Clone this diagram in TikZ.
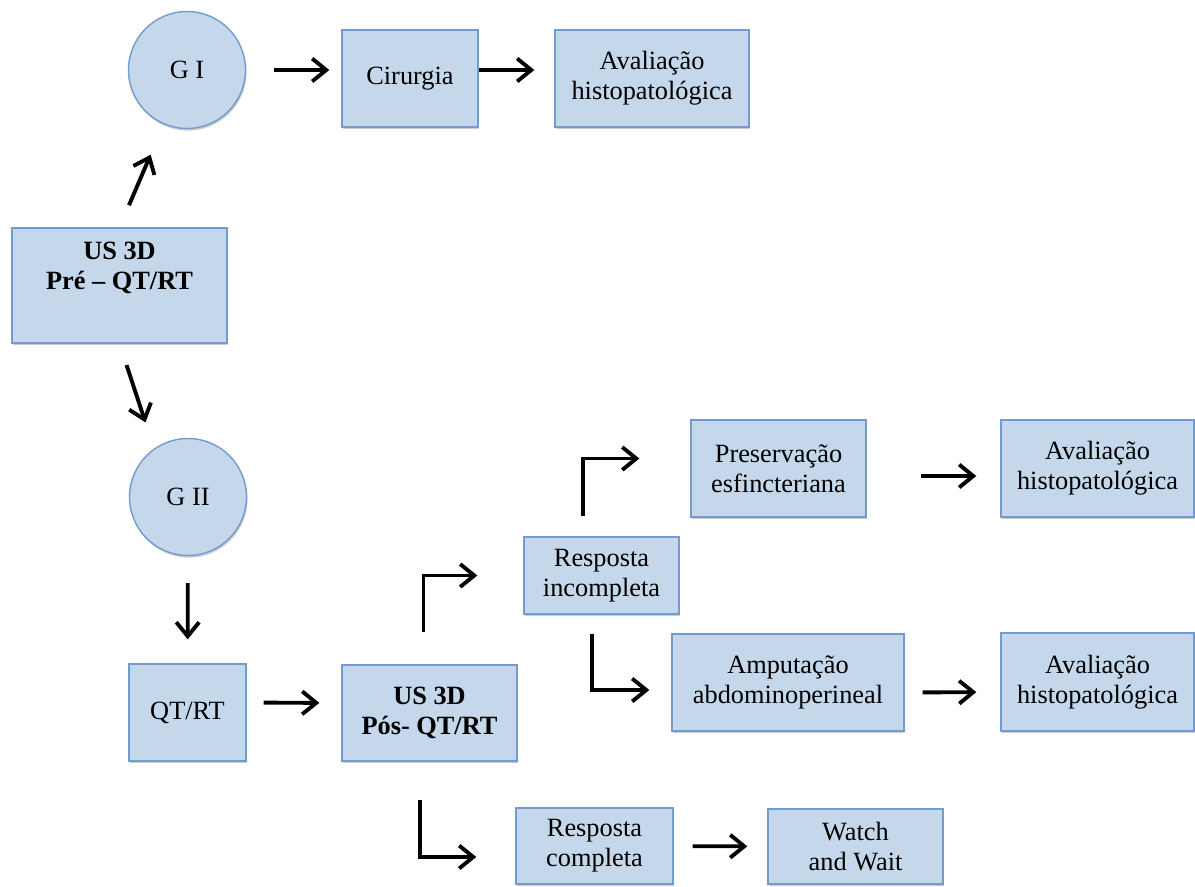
\documentclass[tikz,border=0pt]{standalone}
\usepackage{fontspec}
\setmainfont{Liberation Serif}
\usepackage{tikz}
\usetikzlibrary{arrows.meta, positioning, shadows}
\definecolor{boxFill}{RGB}{197, 215, 235}
\definecolor{boxBorder}{RGB}{115, 155, 205}

\begin{document}
\begin{tikzpicture}[
    x=0.02cm, y=-0.02cm,
    flowbox/.style={
        rectangle,
        draw=boxBorder,
        line width=0.8pt,
        fill=boxFill,
        align=center,
        inner sep=0pt,
        font=\fontsize{15}{17}\selectfont,
        drop shadow={shadow xshift=0.6pt, shadow yshift=-1.2pt, fill=black, opacity=0.2}
    },
    groupcircle/.style={
        flowbox,
        circle,
        minimum size=2.34cm
    },
    flowarrow/.style={
        -{Straight Barb[length=8pt, width=13pt]},
        line width=2.2pt,
        black
    }
]
\useasboundingbox (0,0) rectangle (1195,886);

% Top row - Grupo I
\node[groupcircle] (gi) at (187,70) {G I};
\node[flowbox, minimum width=2.72cm, minimum height=1.94cm] (cir) at (410,78.5) {Cirurgia};
\node[flowbox, minimum width=3.88cm, minimum height=1.94cm] (aval1) at (652,78.5) {Avaliação\\histopatológica};

% Left column - start and Grupo II
\node[flowbox, font=\fontsize{15}{17}\selectfont\bfseries, minimum width=4.3cm, minimum height=2.3cm] (pre) at (119.5,285.5) {US 3D\\Pré – QT/RT\\\strut};
\node[groupcircle] (gii) at (188,497) {G II};
\node[flowbox, minimum width=2.34cm, minimum height=1.94cm] (qtrt) at (187.5,712.5) {QT/RT};
\node[flowbox, font=\fontsize{15}{17}\selectfont\bfseries, minimum width=3.5cm, minimum height=1.92cm] (pos) at (429.5,713) {US 3D\\Pós- QT/RT};

% Right part - responses
\node[flowbox, minimum width=3.1cm, minimum height=1.54cm] (inc) at (601.5,575.5) {Resposta\\incompleta};
\node[flowbox, minimum width=3.5cm, minimum height=1.94cm] (pres) at (778.5,468.5) {Preservação\\esfincteriana};
\node[flowbox, minimum width=3.86cm, minimum height=1.94cm] (aval2) at (1097.5,468.5) {Avaliação\\histopatológica};
\node[flowbox, minimum width=4.64cm, minimum height=1.94cm] (amp) at (788,682.5) {Amputação\\abdominoperineal};
\node[flowbox, minimum width=3.86cm, minimum height=1.96cm] (aval3) at (1097.5,682) {Avaliação\\histopatológica};
\node[flowbox, minimum width=3.14cm, minimum height=1.52cm] (comp) at (594.5,846) {Resposta\\completa};
\node[flowbox, minimum width=3.5cm, minimum height=1.5cm] (watch) at (855.5,846.5) {Watch\\and Wait};

% Connecting arrows
\draw[flowarrow, shorten <=0.48cm, shorten >=0.66cm] (pre.north) -- (gi);
\draw[flowarrow, shorten <=0.45cm, shorten >=0.55cm] (pre.south) -- (gii.125);
\draw[flowarrow, shorten <=0.56cm, shorten >=0.24cm] (gi) -- (gi -| cir.west);
\draw[flowarrow, shorten >=0.4cm] (cir.east |- gi) -- (aval1.west |- gi);
\draw[flowarrow, shorten <=0.54cm, shorten >=0.48cm] (gii) -- (qtrt);
\draw[flowarrow, shorten <=0.34cm, shorten >=0.44cm] ([yshift=0.2cm]qtrt.east) -- ([yshift=0.2cm]pos.west);
\draw[flowarrow, shorten <=0.64cm, shorten >=0.92cm] ([xshift=-0.12cm]pos.north) |- (inc.west);
\draw[flowarrow, shorten <=0.76cm, shorten >=0.78cm] ([xshift=-0.19cm]pos.south) |- ([yshift=-0.22cm]comp.west);
\draw[flowarrow, shorten <=0.4cm, shorten >=1.02cm] ([xshift=-0.37cm]inc.north) |- ([yshift=0.2cm]pres.west);
\draw[flowarrow, shorten <=0.38cm, shorten >=0.44cm] ([xshift=-0.19cm]inc.south) |- ([yshift=-0.15cm]amp.west);
\draw[flowarrow, shorten <=1.08cm, shorten >=0.48cm] ([yshift=-0.15cm]pres.east) -- ([yshift=-0.15cm]aval2.west);
\draw[flowarrow, shorten <=0.36cm, shorten >=0.48cm] ([yshift=-0.2cm]amp.east) -- ([yshift=-0.2cm]aval3.west);
\draw[flowarrow, shorten <=0.38cm, shorten >=0.4cm] (comp) -- (watch);

\end{tikzpicture}
\end{document}
